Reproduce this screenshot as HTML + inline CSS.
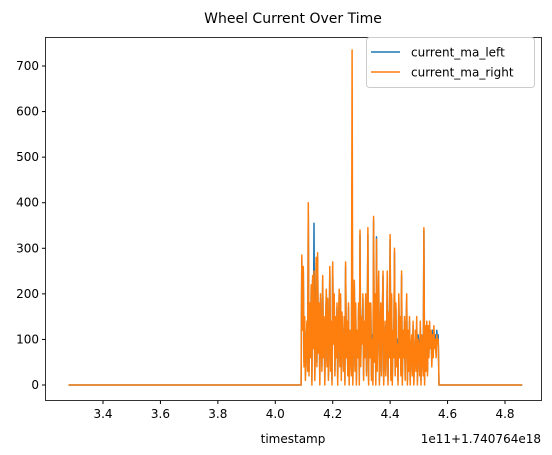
<!DOCTYPE html>
<html><head><meta charset="utf-8"><style>
body{margin:0;background:#fff}
svg{display:block;font-family:"DejaVu Sans","Liberation Sans",sans-serif}
</style></head><body>
<svg id="chart" width="552" height="455" viewBox="0 0 552 455">
<rect width="552" height="455" fill="#fff"/>
<text x="293" y="23" text-anchor="middle" font-size="14" fill="#000">Wheel Current Over Time</text>
<g id="plot"></g>
<rect x="45.5" y="37.5" width="496" height="363" fill="none" stroke="#000" stroke-width="0.8"/>
<g id="xt"></g>
<g id="yt"></g>
<text x="293" y="443" text-anchor="middle" font-size="12">timestamp</text>
<text x="541" y="443" text-anchor="end" font-size="12">1e11+1.740764e18</text>
<g>
<rect x="366.5" y="37.5" width="168" height="50" rx="3" fill="#fff" fill-opacity="0.8" stroke="#ccc"/>
<line x1="371" y1="52" x2="400" y2="52" stroke="#1f77b4" stroke-width="1.5"/>
<text x="411" y="56.5" font-size="12">current_ma_left</text>
<line x1="371" y1="72" x2="400" y2="72" stroke="#ff7f0e" stroke-width="1.5"/>
<text x="411" y="76.5" font-size="12">current_ma_right</text>
</g>
</svg>
<script>
const xTicks=[3.4,3.6,3.8,4.0,4.2,4.4,4.6,4.8];
const xTickLabels=["3.4","3.6","3.8","4.0","4.2","4.4","4.6","4.8"];
const yTicks=[0,100,200,300,400,500,600,700];
const times=[3.28,
4.09,4.0925,4.095,4.0975,4.1,4.1025,4.105,4.1075,4.11,4.1125,
4.115,4.1175,4.12,4.1225,4.125,4.1275,4.13,4.1325,4.135,4.1375,
4.14,4.1425,4.145,4.1475,4.15,4.1525,4.155,4.1575,4.16,4.1625,
4.165,4.1675,4.17,4.1725,4.175,4.1775,4.18,4.1825,4.185,4.1875,
4.19,4.1925,4.195,4.1975,4.2,4.2025,4.205,4.2075,4.21,4.2125,
4.215,4.2175,4.22,4.2225,4.225,4.2275,4.23,4.2325,4.235,4.2375,
4.24,4.2425,4.245,4.2475,4.25,4.2525,4.255,4.2575,4.26,4.2625,
4.265,4.2675,4.27,4.2725,4.275,4.2775,4.28,4.2825,4.285,4.2875,
4.29,4.2925,4.295,4.2975,4.3,4.3025,4.305,4.3075,4.31,4.3125,
4.315,4.3175,4.32,4.3225,4.325,4.3275,4.33,4.3325,4.335,4.3375,
4.34,4.3425,4.345,4.3475,4.35,4.3525,4.355,4.3575,4.36,4.3625,
4.365,4.3675,4.37,4.3725,4.375,4.3775,4.38,4.3825,4.385,4.3875,
4.39,4.3925,4.395,4.3975,4.4,4.4025,4.405,4.4075,4.41,4.4125,
4.415,4.4175,4.42,4.4225,4.425,4.4275,4.43,4.4325,4.435,4.4375,
4.44,4.4425,4.445,4.4475,4.45,4.4525,4.455,4.4575,4.46,4.4625,
4.465,4.4675,4.47,4.4725,4.475,4.4775,4.48,4.4825,4.485,4.4875,
4.49,4.4925,4.495,4.4975,4.5,4.5025,4.505,4.5075,4.51,4.5125,
4.515,4.5175,4.52,4.5225,4.525,4.5275,4.53,4.5325,4.535,4.5375,
4.54,4.5425,4.545,4.5475,4.55,4.5525,4.555,4.5575,4.56,4.5625,
4.565,4.5675,4.57,4.86];
const right=[0,
0,285,120,260,40,150,10,90,140,30,
400,20,180,60,220,0,240,80,250,10,
120,280,40,290,70,180,0,200,100,30,
240,60,150,0,120,210,40,190,10,80,
260,30,140,0,270,90,200,20,150,60,
180,0,130,210,40,200,10,160,80,30,
150,0,270,60,140,20,180,0,120,60,
20,735,0,90,230,30,180,0,120,60,
180,0,340,40,150,90,200,10,140,60,
200,20,130,345,0,180,60,180,10,100,
0,370,50,200,0,320,30,150,250,0,
90,180,20,140,250,0,60,140,20,100,
250,0,160,60,330,10,200,0,120,60,
300,20,180,40,90,0,200,60,150,20,
250,0,120,60,150,10,100,200,0,120,
30,150,0,80,110,20,140,0,50,120,
30,150,0,100,80,20,140,0,110,60,
20,345,0,130,30,140,20,130,60,140,
80,120,40,110,60,130,80,100,60,110,
90,100,0,0];
const left=[0,
0,275,130,250,50,140,20,100,130,40,
380,30,170,70,210,10,230,90,355,20,
130,270,50,280,80,170,10,190,110,40,
230,70,140,10,130,200,50,180,20,90,
250,40,130,10,260,100,190,30,140,70,
170,10,120,200,50,190,20,150,90,40,
140,10,260,70,130,30,170,10,110,70,
30,440,10,100,220,40,170,10,110,70,
170,10,330,50,140,100,190,20,130,70,
190,30,120,330,10,170,70,170,20,110,
10,360,60,190,10,325,40,140,240,10,
100,170,30,130,240,10,70,130,30,110,
240,10,150,70,320,20,190,10,110,70,
290,30,170,50,100,10,190,70,140,30,
240,10,110,70,140,20,110,190,10,110,
40,140,10,90,100,30,130,10,60,110,
40,140,10,110,90,30,130,10,100,70,
30,340,10,120,40,130,30,120,70,130,
90,110,50,120,70,120,90,110,70,120,
100,110,0,0];
const X=v=>103+(v-3.4)*(402/1.4);
const Y=v=>385-v*(319/700);
const ns="http://www.w3.org/2000/svg";
const xt=document.getElementById('xt'),yt=document.getElementById('yt'),plot=document.getElementById('plot');
xTicks.forEach((t,i)=>{
 const l=document.createElementNS(ns,'line');
 
 
 l.setAttribute('x1',X(t));l.setAttribute('x2',X(t));l.setAttribute('y1',400.5);l.setAttribute('y2',404);l.setAttribute('stroke','#000');xt.appendChild(l);
 const tx=document.createElementNS(ns,'text');
 
 
 tx.setAttribute('x',X(t));tx.setAttribute('y',418);tx.setAttribute('text-anchor','middle');tx.setAttribute('font-size','12');tx.textContent=xTickLabels[i];xt.appendChild(tx);
});
yTicks.forEach(t=>{
 const l=document.createElementNS(ns,'line');
 
 
 l.setAttribute('x1',42);l.setAttribute('x2',45.5);l.setAttribute('y1',Y(t));l.setAttribute('y2',Y(t));l.setAttribute('stroke','#000');yt.appendChild(l);
 const tx=document.createElementNS(ns,'text');
 
 
 tx.setAttribute('x',39);tx.setAttribute('y',Y(t)+4);tx.setAttribute('text-anchor','end');tx.setAttribute('font-size','12');tx.textContent=t;yt.appendChild(tx);
});
function line(vals,color,name){
 const p=document.createElementNS(ns,'polyline');
 
 
 p.setAttribute('points',times.map((t,i)=>X(t).toFixed(1)+','+Y(vals[i]).toFixed(1)).join(' '));
 p.setAttribute('fill','none');p.setAttribute('stroke',color);p.setAttribute('stroke-width','1.5');p.setAttribute('stroke-linejoin','round');
 plot.appendChild(p);
}
line(left,'#1f77b4','series-current-left');
line(right,'#ff7f0e','series-current-right');
</script>
</body></html>
